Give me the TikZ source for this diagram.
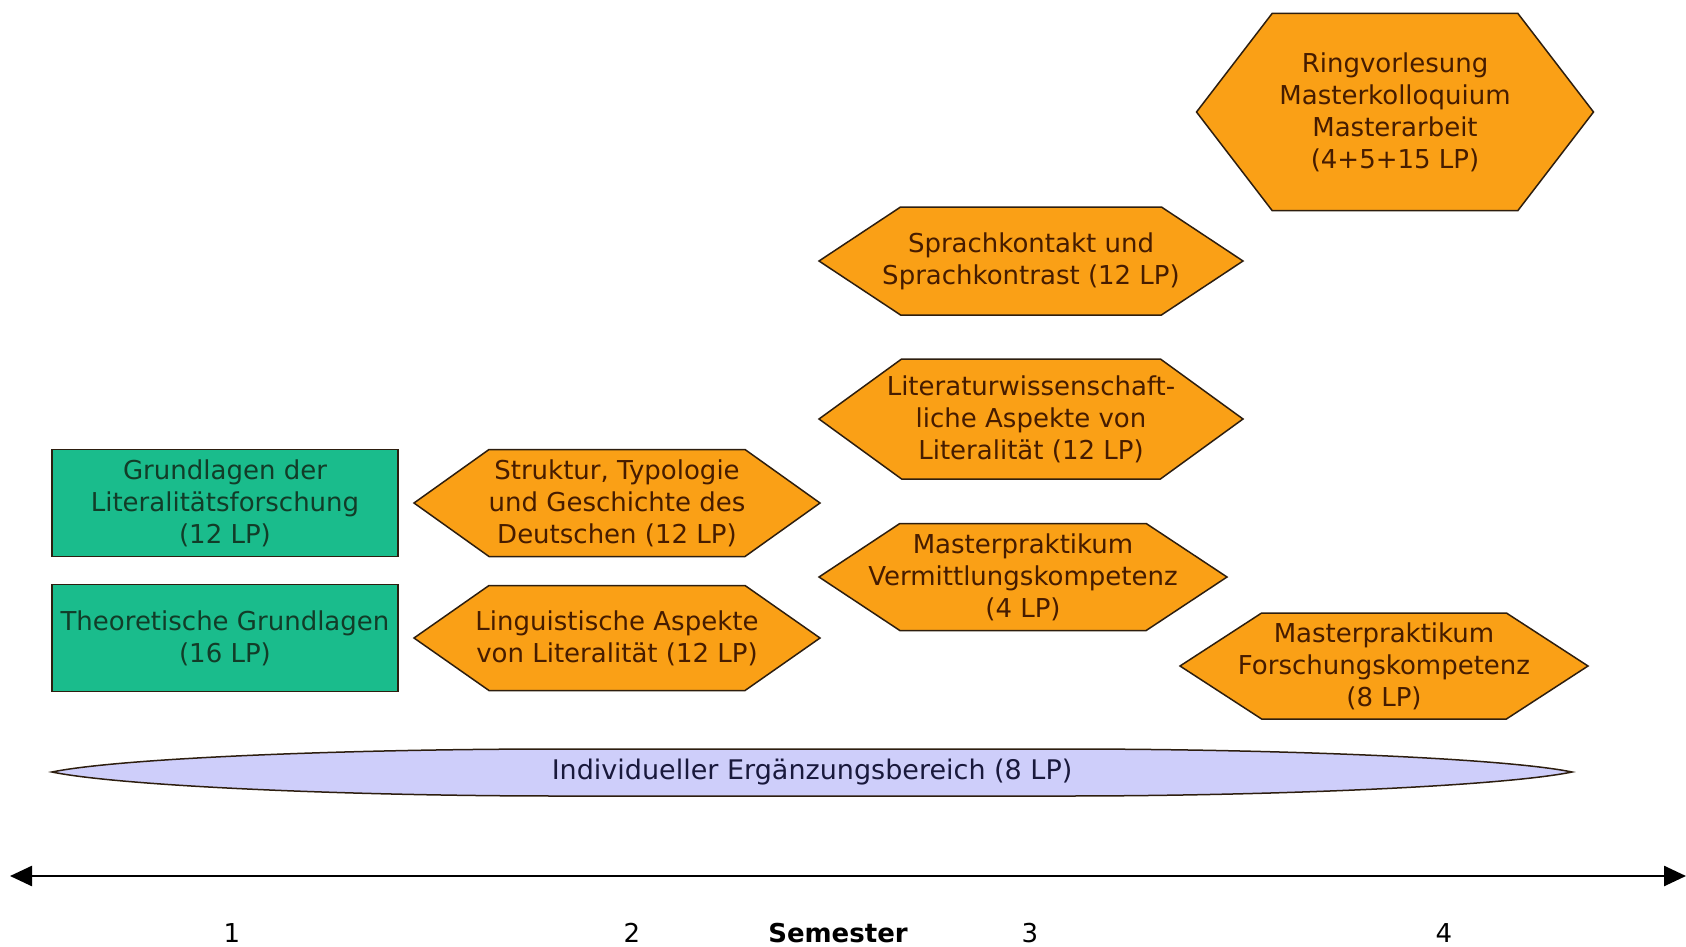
\documentclass[tikz,border=0pt]{standalone}
\usepackage{fontspec}
\setmainfont{DejaVu Sans}
\usetikzlibrary{shapes.symbols,arrows.meta}
\definecolor{modorange}{RGB}{250,160,22}
\definecolor{modgreen}{RGB}{26,188,140}
\definecolor{modlilac}{RGB}{206,206,250}
\definecolor{modline}{RGB}{45,30,15}
\definecolor{modtext}{RGB}{70,28,0}
\definecolor{greentext}{RGB}{18,60,40}
\definecolor{lilactext}{RGB}{25,25,60}
\begin{document}
\begin{tikzpicture}[x=1pt, y=-1pt,
    every node/.style={font=\fontsize{26}{32}\selectfont, align=center, inner sep=0pt},
    pflicht/.style={draw=modline, line width=1.5pt, fill=modgreen, text=greentext,
      minimum width=346pt, minimum height=107pt},
    modul/.style={signal, signal to=west and east, signal pointer angle=67,
      inner xsep=-80pt, draw=modline, line width=1.5pt, fill=modorange, text=modtext}]
    \useasboundingbox (0,0) rectangle (1686,947);
    % semester 1
    \node[pflicht] (grundl) at (225,503) {Grundlagen der\\Literalitätsforschung\\(12 LP)};
    \node[pflicht] (theorie) at (225,638) {Theoretische Grundlagen\\(16 LP)};
    % semester 2
    \node[modul, minimum width=406pt, minimum height=107pt, signal pointer angle=71] (struktur) at (617,503)
      {Struktur, Typologie\\und Geschichte des\\Deutschen (12 LP)};
    \node[modul, minimum width=406pt, minimum height=105pt, signal pointer angle=70] (ling) at (617,638)
      {Linguistische Aspekte\\von Literalität (12 LP)};
    % semester 3
    \node[modul, minimum width=424pt, minimum height=108pt] (kontakt) at (1031,261)
      {Sprachkontakt und\\Sprachkontrast (12 LP)};
    \node[modul, minimum width=424pt, minimum height=120pt, signal pointer angle=72] (litwiss) at (1031,419)
      {Literaturwissenschaft-\\liche Aspekte von\\Literalität (12 LP)};
    \node[modul, minimum width=408pt, minimum height=107pt] (vermittl) at (1023,577)
      {Masterpraktikum\\Vermittlungskompetenz\\(4 LP)};
    % semester 4
    \node[modul, minimum width=397pt, minimum height=197pt, signal pointer angle=105] (master) at (1395,112)
      {Ringvorlesung\\Masterkolloquium\\Masterarbeit\\(4+5+15 LP)};
    \node[modul, minimum width=408pt, minimum height=106pt, signal pointer angle=66] (forsch) at (1384,666)
      {Masterpraktikum\\Forschungskompetenz\\(8 LP)};
    % ergaenzungsbereich
    \draw[draw=modline, line width=1.5pt, fill=modlilac]
      (52,772) .. controls (120,758) and (350,749) .. (559,749) -- (1065,749)
      .. controls (1274,749) and (1504,758) .. (1572,772)
      .. controls (1504,786) and (1274,796) .. (1065,796) -- (559,796)
      .. controls (350,796) and (120,786) .. (52,772) -- cycle;
    \node[text=lilactext, font=\fontsize{27}{32}\selectfont] (ieb) at (812,772) {Individueller Ergänzungsbereich (8 LP)};
    % zeitachse
    \coordinate (achse-l) at (10,876);
    \coordinate (achse-r) at (1686,876);
    \draw[{Triangle[length=22pt,width=20pt]}-{Triangle[length=22pt,width=20pt]}, line width=2.5pt]
      (achse-l) -- (achse-r);
    \node (sem1) at (232,933) {1};
    \node (sem2) at (632,933) {2};
    \node[font=\fontsize{26}{32}\selectfont\bfseries] (sem) at (838,933) {Semester};
    \node (sem3) at (1030,933) {3};
    \node (sem4) at (1444,933) {4};
\end{tikzpicture}
\end{document}
